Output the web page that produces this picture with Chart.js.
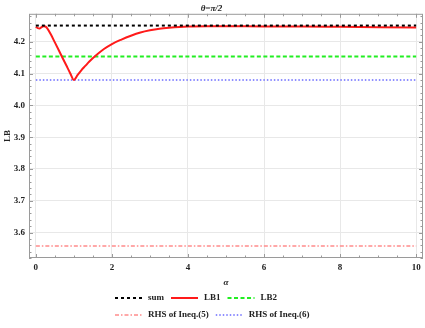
<!DOCTYPE html>
<html>
<head>
<meta charset="utf-8">
<script src="https://cdn.jsdelivr.net/npm/chart.js@4"></script>
<style>
  html, body { margin: 0; padding: 0; background: #fff; }
</style>
</head>
<body>
<canvas id="myChart" width="425" height="328"></canvas>
<script>
// data
const alphaLB1 = [0, 0.05, 0.1, 0.15, 0.2, 0.25, 0.3, 0.4, 0.5, 0.6, 0.7, 0.8, 0.9, 1.0,
  1.1, 1.2, 1.3, 1.4, 1.6, 1.8, 2.0, 2.25, 2.5, 2.75, 3.0, 3.25, 3.5, 4.0, 4.5, 5, 6, 7, 8, 9, 10]
const lb1Values = [4.247, 4.243, 4.242, 4.246, 4.249, 4.248, 4.242, 4.222, 4.198, 4.174, 4.150, 4.126, 4.102, 4.080,
  4.096, 4.111, 4.124, 4.137, 4.159, 4.178, 4.193, 4.207, 4.219, 4.229, 4.236, 4.241, 4.244, 4.248, 4.249, 4.249, 4.248, 4.248, 4.247, 4.246, 4.245]
const alphaRange = [0, 10]
const sumValue = 4.251
const lb2Value = 4.154
const rhs5Value = 3.558
const rhs6Value = 4.080
const xTicks = [0, 2, 4, 6, 8, 10]
const yTicks = [3.6, 3.7, 3.8, 3.9, 4.0, 4.1, 4.2]

const serif = "'Liberation Serif', 'Times New Roman', serif"
const labelFont = { family: serif, size: 9, weight: 'bold' }
const frameColor = '#9a9a9a'

function flat(v) {
  return alphaRange.map(a => ({ x: a, y: v }))
}

let data = {
  datasets: [
    { label: 'sum', data: flat(sumValue), borderColor: '#000', borderWidth: 2, borderDash: [3, 3] },
    { label: 'LB1', data: alphaLB1.map((a, i) => ({ x: a, y: lb1Values[i] })), borderColor: '#ff1a1a', borderWidth: 2, cubicInterpolationMode: 'monotone' },
    { label: 'LB2', data: flat(lb2Value), borderColor: '#22ee22', borderWidth: 2, borderDash: [4, 2.5] },
    { label: 'RHS of Ineq.(5)', data: flat(rhs5Value), borderColor: '#ff8c8c', borderWidth: 1.5, borderDash: [4, 2, 1.5, 2] },
    { label: 'RHS of Ineq.(6)', data: flat(rhs6Value), borderColor: '#6a6aff', borderWidth: 1.5, borderDash: [1.5, 2] }
  ]
}

// frame with inward ticks on all sides, like the reference
const framePlugin = {
  id: 'frame',
  afterDatasetsDraw(chart) {
    const { ctx, chartArea: a, scales: { x, y } } = chart
    ctx.save()
    ctx.strokeStyle = frameColor
    ctx.lineWidth = 1
    ctx.strokeRect(a.left + 0.5, a.top + 0.5, a.right - a.left - 1, a.bottom - a.top - 1)
    ctx.beginPath()
    for (let v = 0; v <= 10.001; v += 0.5) {
      const px = Math.round(x.getPixelForValue(v)) + 0.5
      const len = Math.abs(v % 2) < 0.001 ? 4 : 2.5
      ctx.moveTo(px, a.bottom); ctx.lineTo(px, a.bottom - len)
      ctx.moveTo(px, a.top); ctx.lineTo(px, a.top + len)
    }
    for (let k = 176; k <= 214; k++) {
      const v = k * 0.02
      const py = Math.round(y.getPixelForValue(v)) + 0.5
      const len = k % 5 === 0 ? 4 : 2.5
      ctx.moveTo(a.left, py); ctx.lineTo(a.left + len, py)
      ctx.moveTo(a.right, py); ctx.lineTo(a.right - len, py)
    }
    ctx.stroke()
    ctx.restore()
  },
  afterDraw(chart) {
    // legend: two rows under the axis title
    const { ctx } = chart
    const rows = [[0, 1, 2], [3, 4]]
    const rowY = [298, 315]
    ctx.save()
    ctx.font = 'bold 9px ' + serif
    ctx.textBaseline = 'middle'
    ctx.fillStyle = '#222'
    rows.forEach((row, r) => {
      let x0 = 115
      row.forEach(i => {
        const ds = chart.data.datasets[i]
        ctx.beginPath()
        ctx.strokeStyle = ds.borderColor
        ctx.lineWidth = ds.borderWidth
        ctx.setLineDash(ds.borderDash || [])
        ctx.moveTo(x0, rowY[r]); ctx.lineTo(x0 + 27, rowY[r])
        ctx.stroke()
        ctx.setLineDash([])
        ctx.fillText(ds.label, x0 + 33, rowY[r])
        x0 += 33 + ctx.measureText(ds.label).width + 7
      })
    })
    ctx.restore()
  }
}

let config = {
  type: 'line',
  data: data,
  options: {
    responsive: false,
    animation: false,
    layout: { padding: { left: 0, right: 2, top: 0, bottom: 40 } },
    elements: { point: { radius: 0 } },
    plugins: {
      legend: { display: false },
      tooltip: { enabled: false },
      title: {
        display: true,
        text: 'θ=π/2',
        color: '#222',
        font: { family: serif, size: 9, style: 'italic', weight: 'bold' },
        padding: { top: 3, bottom: 0 }
      }
    },
    scales: {
      x: {
        type: 'linear',
        min: -0.18,
        max: 10.18,
        afterFit: s => { s.height = 30 },
        afterBuildTicks: s => { s.ticks = xTicks.map(v => ({ value: v })) },
        grid: { color: '#e8e8e8', drawTicks: false },
        border: { display: false },
        ticks: { padding: 4, color: '#222', font: labelFont, maxRotation: 0, callback: v => String(v) },
        title: { display: true, text: 'α', color: '#222', padding: 0, font: { family: serif, size: 9, style: 'italic', weight: 'bold' } }
      },
      y: {
        min: 3.52,
        max: 4.288,
        afterFit: s => { s.width = 29 },
        afterBuildTicks: s => { s.ticks = yTicks.map(v => ({ value: v })) },
        grid: { color: '#e8e8e8', drawTicks: false },
        border: { display: false },
        ticks: { padding: 4, color: '#222', font: labelFont, callback: v => v.toFixed(1) },
        title: { display: true, text: 'LB', color: '#222', padding: { top: 2, bottom: 0 }, font: labelFont }
      }
    }
  },
  plugins: [framePlugin]
}

const myChart = new Chart(document.getElementById('myChart'), config)
</script>
</body>
</html>
